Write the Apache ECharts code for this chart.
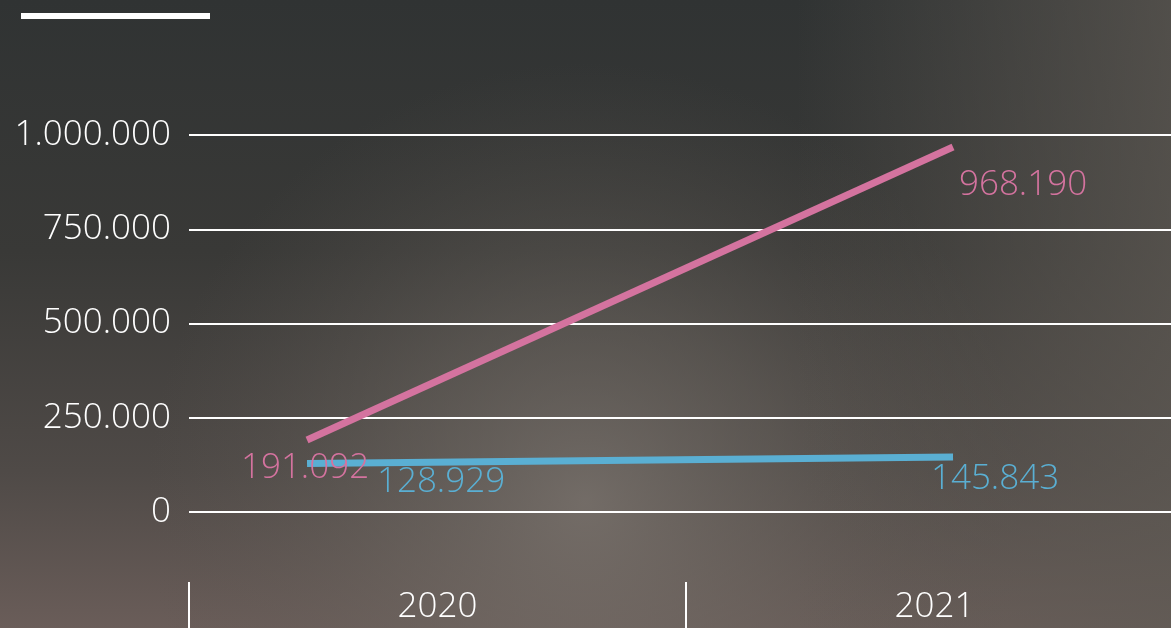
<!DOCTYPE html>
<html>
<head>
<meta charset="utf-8">
<script src="https://cdn.jsdelivr.net/npm/echarts@6/dist/echarts.min.js"></script>
<style>
  html, body { margin: 0; padding: 0; background: #303333; }
  #main { width: 1171px; height: 628px; }
</style>
</head>
<body>
<div id="main"></div>
<script>
// jaren en waarden
var years = ['2020', '2021'];
var yearValues = [2020, 2021];
var pinkValues = [191092, 968190];
var blueValues = [128929, 145843];
var yTicks = [0, 250000, 500000, 750000, 1000000];

var pink = '#d4739f';
var blue = '#5aafd3';
var font = '"Open Sans", "DejaVu Sans", sans-serif';

// label offsets (tekstpositie t.o.v. punt)
var pinkOffsets = [[-2, 28], [70, 38]];
var blueOffsets = [[134, 19], [42, 22]];

function fmt(v) {
	return String(v).replace(/\B(?=(\d{3})+(?!\d))/g, '.');
}

function buildData(vals, offsets, color) {
	var out = [];
	for (var i = 0; i < vals.length; i++) {
		out.push({
			value: [yearValues[i], vals[i]],
			label: {
				show: true,
				position: 'inside',
				offset: offsets[i],
				color: color,
				fontFamily: font,
				fontWeight: 300,
				fontSize: 35,
				formatter: fmt(vals[i])
			}
		});
	}
	return out;
}

var chart = echarts.init(document.getElementById('main'));
var option = {
	backgroundColor: {
		type: 'linear', x: 0, y: 0, x2: 0, y2: 1,
		colorStops: [
			{offset: 0, color: '#303333'},
			{offset: 0.4, color: '#393937'},
			{offset: 0.75, color: '#4f4a47'},
			{offset: 1, color: '#6a5d59'}
		]
	},
	animation: false,
	graphic: [
		{
			type: 'rect', z: -100, silent: true,
			shape: {x: 0, y: 0, width: 1171, height: 628},
			style: {
				fill: {
					type: 'radial', x: 0.5, y: 0.8, r: 0.7,
					colorStops: [
						{offset: 0, color: 'rgba(125,118,112,0.75)'},
						{offset: 0.45, color: 'rgba(110,104,98,0.45)'},
						{offset: 1, color: 'rgba(90,85,80,0)'}
					]
				}
			}
		},
		{
			type: 'rect', z: -99, silent: true,
			shape: {x: 0, y: 0, width: 1171, height: 628},
			style: {
				fill: {
					type: 'linear', x: 0, y: 0, x2: 1, y2: 0,
					colorStops: [
						{offset: 0.68, color: 'rgba(95,90,84,0)'},
						{offset: 1, color: 'rgba(95,90,84,0.7)'}
					]
				}
			}
		},
		{
			type: 'rect', z: 10, silent: true,
			shape: {x: 21, y: 13, width: 189, height: 6},
			style: {fill: '#ffffff'}
		}
	],
	grid: {left: 189, width: 994, top: 135, bottom: 116, containLabel: false, outerBoundsMode: 'none'},
	xAxis: [
		{
			type: 'value',
			min: 2019.8173,
			max: 2021.356,
			show: false
		},
		{
			type: 'category',
			data: years,
			position: 'bottom',
			offset: 70,
			boundaryGap: true,
			axisLine: {show: false},
			axisTick: {show: true, length: 52, interval: 0, lineStyle: {color: '#ffffff', width: 2}},
			axisLabel: {color: '#ffffff', fontFamily: font, fontWeight: 300, fontSize: 35, margin: 8, lineHeight: 34},
			splitLine: {show: false}
		}
	],
	yAxis: {
		type: 'value',
		min: yTicks[0],
		max: yTicks[yTicks.length - 1],
		interval: 250000,
		axisLine: {show: false},
		axisTick: {show: false},
		axisLabel: {
			color: '#ffffff', fontFamily: font, fontWeight: 300, fontSize: 35, margin: 18,
			formatter: function(v) { return fmt(v); }
		},
		splitLine: {lineStyle: {color: '#ffffff', width: 2}}
	},
	series: [
		{
			name: 'roze',
			type: 'line',
			xAxisIndex: 0,
			symbol: 'circle',
			symbolSize: 0.1,
			itemStyle: {color: pink},
			lineStyle: {color: pink, width: 7, cap: 'butt'},
			data: buildData(pinkValues, pinkOffsets, pink)
		},
		{
			name: 'blauw',
			type: 'line',
			xAxisIndex: 0,
			symbol: 'circle',
			symbolSize: 0.1,
			itemStyle: {color: blue},
			lineStyle: {color: blue, width: 7, cap: 'butt'},
			data: buildData(blueValues, blueOffsets, blue)
		}
	]
};
chart.setOption(option);
</script>
</body>
</html>
